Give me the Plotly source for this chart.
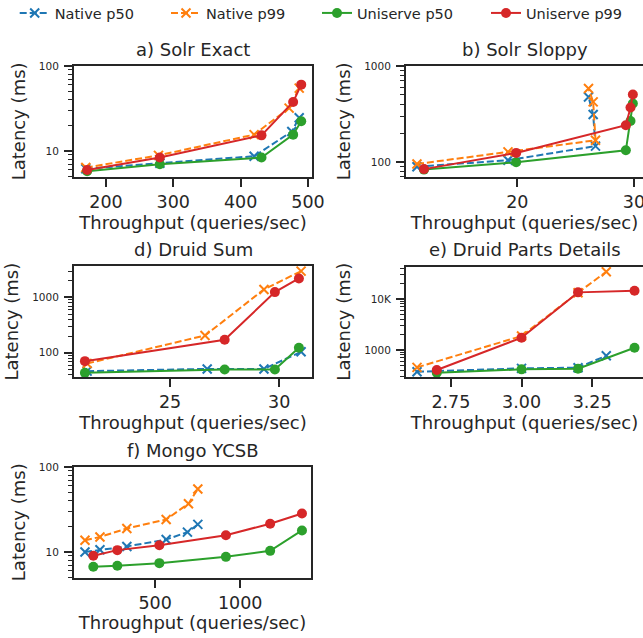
import plotly.graph_objects as go
import math

W, H = 643, 638

series_names = ["Native p50", "Native p99", "Uniserve p50", "Uniserve p99"]

# a) Solr Exact
a_native_p50_x = [170, 280, 420, 476, 487]
a_native_p50_y = [6.2, 7.2, 8.7, 17.0, 24.7]
a_native_p99_x = [170, 278, 420, 472, 487]
a_native_p99_y = [6.4, 8.9, 15.6, 32.0, 55.0]
a_uni_p50_x = [172, 280, 431, 478, 490]
a_uni_p50_y = [5.8, 7.0, 8.4, 15.6, 22.4]
a_uni_p99_x = [172, 280, 431, 478, 490]
a_uni_p99_y = [6.0, 8.4, 15.3, 37.7, 60.4]

# b) Solr Sloppy
b_native_p50_x = [11.4, 19.2, 26.7, 26.5, 26.1]
b_native_p50_y = [89, 104, 146, 312, 475]
b_native_p99_x = [11.4, 19.2, 26.7, 26.5, 26.1]
b_native_p99_y = [95, 127, 168, 422, 582]
b_uni_p50_x = [12.0, 19.9, 29.3, 29.7, 29.9]
b_uni_p50_y = [83, 99, 132, 267, 406]
b_uni_p99_x = [12.0, 19.9, 29.3, 29.7, 29.9]
b_uni_p99_y = [84, 124, 241, 369, 504]

# d) Druid Sum
d_native_p50_x = [21.2, 26.7, 29.3, 31.0]
d_native_p50_y = [46.5, 51, 51, 104]
d_native_p99_x = [21.2, 26.6, 29.3, 31.0]
d_native_p99_y = [64, 205, 1396, 2990]
d_uni_p50_x = [21.1, 27.5, 29.8, 30.9]
d_uni_p50_y = [43.3, 49.9, 49.9, 123]
d_uni_p99_x = [21.1, 27.5, 29.8, 30.9]
d_uni_p99_y = [70.5, 172, 1248, 2204]

# e) Druid Parts Details
e_native_p50_x = [2.63, 3.0, 3.2, 3.3]
e_native_p50_y = [376, 437, 451, 774]
e_native_p99_x = [2.63, 3.0, 3.2, 3.3]
e_native_p99_y = [457, 1882, 13300, 34300]
e_uni_p50_x = [2.7, 3.0, 3.2, 3.4]
e_uni_p50_y = [360, 418, 430, 1110]
e_uni_p99_x = [2.7, 3.0, 3.2, 3.4]
e_uni_p99_y = [405, 1745, 13500, 14550]

# f) Mongo YCSB
f_native_p50_x = [88, 176, 334, 565, 690, 751]
f_native_p50_y = [10.0, 10.6, 11.6, 14.0, 17.1, 21.1]
f_native_p99_x = [88, 176, 334, 565, 696, 751]
f_native_p99_y = [13.7, 15.0, 18.9, 24.1, 37.0, 55.0]
f_uni_p50_x = [137, 278, 525, 916, 1176, 1363]
f_uni_p50_y = [6.68, 6.86, 7.38, 8.75, 10.3, 17.9]
f_uni_p99_x = [137, 278, 525, 916, 1176, 1363]
f_uni_p99_y = [9.0, 10.5, 12.0, 15.7, 21.5, 28.4]

titles = ["a) Solr Exact", "b) Solr Sloppy", "d) Druid Sum",
          "e) Druid Parts Details", "f) Mongo YCSB"]

a_xticks = [200, 300, 400, 500]
b_xticks = [20, 30]
d_xticks = [25, 30]
e_xticks = [2.75, 3.00, 3.25]
e_xticktext = ["2.75", "3.00", "3.25"]
f_xticks = [500, 1000]

a_yticks = [10, 100]
b_yticks = [100, 1000]
d_yticks = [100, 1000]
e_yticks = [1000, 10000]
e_yticktext = ["1000", "10K"]
f_yticks = [10, 100]

X_TITLE = "Throughput (queries/sec)"
Y_TITLE = "Latency (ms)"

panels = [
    dict(data=[(a_native_p50_x, a_native_p50_y), (a_native_p99_x, a_native_p99_y),
               (a_uni_p50_x, a_uni_p50_y), (a_uni_p99_x, a_uni_p99_y)],
         px=(74, 312), py=(66, 176.7), xr=[152.5, 506], yr=[5, 100],
         xt=a_xticks, xtt=None, yt=a_yticks, ytt=None, full=True),
    dict(data=[(b_native_p50_x, b_native_p50_y), (b_native_p99_x, b_native_p99_y),
               (b_uni_p50_x, b_uni_p50_y), (b_uni_p99_x, b_uni_p99_y)],
         px=(406, 643), py=(66, 176.7), xr=[10.46, 30.77], yr=[70, 1000],
         xt=b_xticks, xtt=None, yt=b_yticks, ytt=None, full=False),
    dict(data=[(d_native_p50_x, d_native_p50_y), (d_native_p99_x, d_native_p99_y),
               (d_uni_p50_x, d_uni_p50_y), (d_uni_p99_x, d_uni_p99_y)],
         px=(74, 312), py=(266, 377.3), xr=[20.6, 31.5], yr=[36, 3700],
         xt=d_xticks, xtt=None, yt=d_yticks, ytt=None, full=True),
    dict(data=[(e_native_p50_x, e_native_p50_y), (e_native_p99_x, e_native_p99_y),
               (e_uni_p50_x, e_uni_p50_y), (e_uni_p99_x, e_uni_p99_y)],
         px=(406, 643), py=(266.7, 376.7), xr=[2.591, 3.430], yr=[300, 43000],
         xt=e_xticks, xtt=e_xticktext, yt=e_yticks, ytt=e_yticktext, full=False),
    dict(data=[(f_native_p50_x, f_native_p50_y), (f_native_p99_x, f_native_p99_y),
               (f_uni_p50_x, f_uni_p50_y), (f_uni_p99_x, f_uni_p99_y)],
         px=(74, 311), py=(467, 577.5), xr=[23.5, 1416], yr=[5, 100],
         xt=f_xticks, xtt=None, yt=f_yticks, ytt=None, full=True),
]

colors = ["#1f77b4", "#ff7f0e", "#2ca02c", "#d62728"]
dashes = ["7px,3px", "7px,3px", "solid", "solid"]
symbols = ["x-thin", "x-thin", "circle", "circle"]
msizes = [9, 9, 10, 10]
legend_ids = ["legend", "legend2", "legend3", "legend4"]
legend_text_x = [62.7, 214, 365, 534]  # pixel where each legend label starts

INK = "#262626"
FONT = "DejaVu Sans"

fig = go.Figure()
annotations = []
layout = {}

for i, p in enumerate(panels):
    n = i + 1
    xa = "xaxis" if n == 1 else f"xaxis{n}"
    ya = "yaxis" if n == 1 else f"yaxis{n}"
    xref = "x" if n == 1 else f"x{n}"
    yref = "y" if n == 1 else f"y{n}"
    for k, (xs, ys) in enumerate(p["data"]):
        mk = dict(symbol=symbols[k], size=msizes[k], color=colors[k])
        if symbols[k] == "x-thin":
            mk["line"] = dict(width=2, color=colors[k])
        fig.add_trace(go.Scatter(
            x=xs, y=ys, mode="lines+markers", name=series_names[k],
            legendgroup=series_names[k], showlegend=(i == 0), legend=legend_ids[k],
            line=dict(color=colors[k], width=2, dash=dashes[k]),
            marker=mk, xaxis=xref, yaxis=yref, cliponaxis=False))
    x0, x1 = p["px"]
    top, bot = p["py"]
    lo, hi = math.log10(p["yr"][0]), math.log10(p["yr"][1])
    minor_vals = []
    for e in range(int(math.floor(lo)) - 1, int(math.ceil(hi)) + 1):
        for m in range(2, 10):
            v = m * 10 ** e
            if p["yr"][0] <= v <= p["yr"][1]:
                minor_vals.append(v)
    xaxis = dict(
        domain=[x0 / W, x1 / W], anchor=yref, range=p["xr"], automargin=False,
        showline=True, linecolor=INK, linewidth=2, mirror=True,
        ticks="outside", ticklen=8, tickwidth=1.6, tickcolor=INK,
        tickmode="array", tickvals=p["xt"], ticklabeloverflow="allow",
        tickfont=dict(size=17.5, color=INK, family=FONT),
        showgrid=False, zeroline=False,
        title=dict(text=X_TITLE, font=dict(size=18, color=INK, family=FONT), standoff=5),
    )
    if p["xtt"] is not None:
        xaxis["ticktext"] = p["xtt"]
    yaxis = dict(
        domain=[1 - bot / H, 1 - top / H], anchor=xref, type="log", automargin=False,
        range=[lo, hi],
        showline=True, linecolor=INK, linewidth=2, mirror=p["full"],
        ticks="outside", ticklen=8, tickwidth=1.6, tickcolor=INK,
        tickmode="array", tickvals=p["yt"], ticklabelstandoff=3,
        tickfont=dict(size=10.5, color=INK, family=FONT),
        minor=dict(tickmode="array", tickvals=minor_vals, ticks="outside",
                   ticklen=4, tickwidth=1.2, tickcolor=INK, showgrid=False),
        showgrid=False, zeroline=False,
        title=dict(text=Y_TITLE, font=dict(size=18, color=INK, family=FONT), standoff=9),
    )
    if p["ytt"] is not None:
        yaxis["ticktext"] = p["ytt"]
    layout[xa] = xaxis
    layout[ya] = yaxis
    cx = (x0 + x1) / 2 if p["full"] else (x0 + x0 + 238) / 2
    annotations.append(dict(
        text=titles[i], x=cx / W, y=1 - (top - 17) / H, xref="paper", yref="paper",
        xanchor="center", yanchor="middle", showarrow=False,
        font=dict(size=18, color=INK, family=FONT)))

for k, lid in enumerate(legend_ids):
    layout[lid] = dict(
        orientation="h", x=(legend_text_x[k] - 48) / W, y=1 - 13 / H,
        xanchor="left", yanchor="middle",
        font=dict(size=14.5, color=INK, family=FONT),
        itemwidth=30, bgcolor="rgba(0,0,0,0)")

fig.update_layout(**layout)
fig.update_layout(
    width=W, height=H, margin=dict(l=0, r=0, t=0, b=0, autoexpand=False),
    paper_bgcolor="white", plot_bgcolor="white",
    font=dict(family=FONT, color=INK),
    annotations=annotations,
    showlegend=True,
)

fig.write_html("out.html", config={"displayModeBar": False},
               post_script="document.body.style.margin='0px';")
